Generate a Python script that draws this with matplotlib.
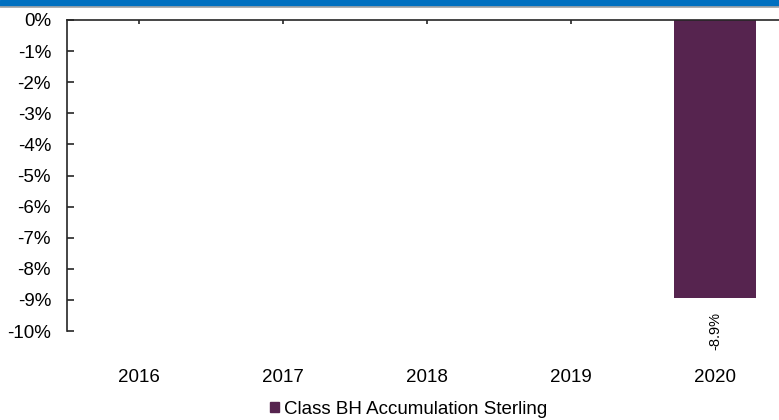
import matplotlib
matplotlib.use("Agg")
import matplotlib.pyplot as plt
from matplotlib.patches import Rectangle
from matplotlib.lines import Line2D
from matplotlib.transforms import blended_transform_factory

plt.rcParams['font.family'] = ['Liberation Sans', 'DejaVu Sans']

categories = ["2016", "2017", "2018", "2019", "2020"]
values = [None, None, None, None, -8.94]
labels = ["", "", "", "", "-8.9%"]
series_name = "Class BH Accumulation Sterling"
yticks = list(range(0, -11, -1))
ytick_labels = [f"{t}%" for t in yticks]

W, H = 779, 420
fig = plt.figure(figsize=(W / 100, H / 100), dpi=100)

# header band
fig.patches.append(Rectangle((0, 1 - 5.5 / H), 1, 5.5 / H, transform=fig.transFigure,
                             color="#0070c0", zorder=0))
fig.lines.append(Line2D([0, 1], [1 - 6.5 / H, 1 - 6.5 / H], transform=fig.transFigure,
                        color="#a6a6a6", lw=1.2))

left = 67 / W
right = 787 / W
top = 1 - 20 / H
bottom = 1 - 331 / H
ax = fig.add_axes([left, bottom, right - left, top - bottom])

bar_color = "#56244f"
xs = list(range(len(categories)))
for i, v in enumerate(values):
    if v is not None:
        ax.bar(i, v, width=0.57, color=bar_color, zorder=2)
        ax.text(i, -9.4, labels[i], rotation=90, ha="center", va="top",
                fontsize=10.5, color="#000000")

ax.set_xlim(-0.5, len(categories) - 0.5)
ax.set_ylim(-10, 0)

for s in ["right", "bottom"]:
    ax.spines[s].set_visible(False)
ax.spines["top"].set_color("#262626")
ax.spines["left"].set_color("#262626")
ax.spines["top"].set_linewidth(1.2)
ax.spines["left"].set_linewidth(1.2)

ax.xaxis.set_ticks_position("top")
ax.set_xticks(xs)
ax.set_xticklabels([])
ax.tick_params(axis="x", direction="in", length=3, width=1.2, color="#262626")

ax.set_yticks(yticks)
ax.set_yticklabels(ytick_labels, fontsize=13.5)
ax.tick_params(axis="y", direction="in", length=5, width=1.2, color="#262626", pad=11.5)

label_tr = blended_transform_factory(ax.transData, fig.transFigure)
label_y = 1 - 378 / H
for i, c in enumerate(categories):
    ax.text(i, label_y, c, transform=label_tr, ha="center", va="center",
            fontsize=13.5, color="#000000")

handle = Rectangle((0, 0), 1, 1, color=bar_color)
fig.legend([handle], [series_name], loc="center", bbox_to_anchor=(409 / W, 1 - 409 / H),
           frameon=False, fontsize=13.5, handlelength=0.45, handleheight=0.45,
           handletextpad=0.3, borderpad=0)

fig.savefig("out.png", dpi=100)
